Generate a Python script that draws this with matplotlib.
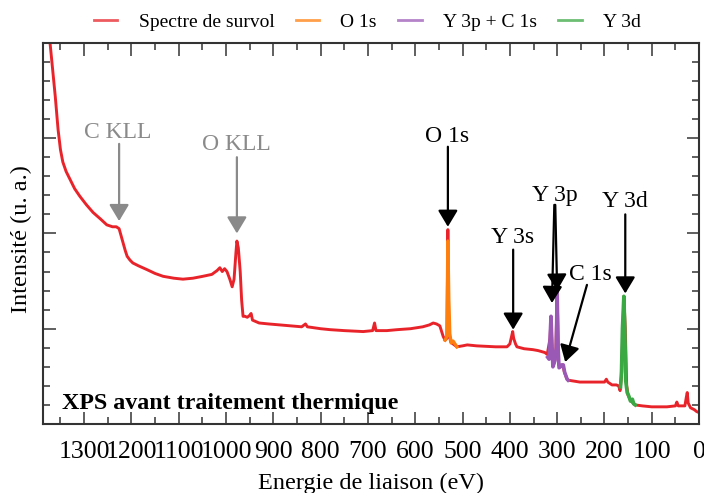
import matplotlib
matplotlib.use("Agg")
import matplotlib.pyplot as plt
from matplotlib.lines import Line2D

plt.rcParams['font.family'] = ['Liberation Serif', 'DejaVu Serif']

# Survey spectrum: binding energy (eV) and intensity (a.u.)
survey_energy = [
    1390, 1380, 1372, 1366, 1361, 1355, 1350, 1345, 1338, 1330, 1320, 1309,
    1295, 1281, 1265, 1252, 1240, 1232, 1226, 1222, 1218, 1213, 1209, 1203,
    1197, 1185, 1167, 1150, 1133, 1110, 1091, 1070, 1049, 1030, 1019, 1013,
    1008, 1003, 998, 992, 987, 983, 979, 977, 974, 970, 967, 964, 960, 955,
    950, 947, 944, 930, 910, 886, 860, 840, 832, 828, 800, 780, 750, 710,
    690, 686, 683, 660, 638, 610, 584, 570, 562, 555, 548, 541, 537, 533,
    531, 529, 525, 520, 512, 500, 490, 470, 430, 406, 400, 396, 394, 392,
    388, 385, 370, 351, 340, 326, 321, 315, 313, 311, 308, 303, 300, 297,
    294, 290, 288, 285, 280, 277, 265, 252, 230, 200, 196, 193, 184, 175,
    170, 167, 164, 159, 156, 153, 150, 145, 140, 135, 120, 100, 68, 50, 47,
    44, 30, 27, 25, 23, 18, 10, 5, 0,
]
survey_intensity = [
    4.60, 4.30, 4.00, 3.70, 3.44, 3.09, 2.88, 2.75, 2.65, 2.57, 2.47, 2.39,
    2.30, 2.22, 2.15, 2.09, 2.07, 2.07, 2.05, 1.98, 1.91, 1.82, 1.76, 1.72,
    1.69, 1.66, 1.62, 1.58, 1.55, 1.53, 1.52, 1.53, 1.55, 1.57, 1.61, 1.64,
    1.60, 1.63, 1.60, 1.52, 1.44, 1.52, 1.80, 1.92, 1.85, 1.60, 1.30, 1.13,
    1.13, 1.12, 1.14, 1.16, 1.09, 1.06, 1.05, 1.04, 1.03, 1.02, 1.05, 1.02,
    1.00, 0.99, 0.98, 0.97, 0.98, 1.06, 0.98, 0.98, 0.99, 1.00, 1.02, 1.04,
    1.06, 1.05, 1.03, 0.92, 0.88, 0.90, 2.04, 0.95, 0.86, 0.84, 0.81, 0.82,
    0.83, 0.82, 0.81, 0.81, 0.84, 0.93, 0.97, 0.90, 0.84, 0.81, 0.79, 0.78,
    0.77, 0.75, 0.73, 0.90, 1.12, 0.80, 0.62, 0.70, 1.38, 0.62, 0.60, 0.62,
    0.62, 0.55, 0.48, 0.46, 0.45, 0.44, 0.44, 0.44, 0.47, 0.44, 0.41, 0.41,
    0.40, 0.35, 0.50, 1.34, 1.00, 0.40, 0.30, 0.25, 0.22, 0.20, 0.19, 0.18,
    0.18, 0.19, 0.23, 0.19, 0.19, 0.28, 0.33, 0.22, 0.17, 0.15, 0.13, 0.12,
]

# O 1s region
o1s_energy = [537, 535, 533, 531, 529, 527, 524, 520, 516, 512]
o1s_intensity = [0.88, 0.90, 0.92, 1.92, 1.30, 0.95, 0.85, 0.87, 0.84, 0.81]

# Y 3p + C 1s region
y3p_energy = [320, 317, 315, 313, 311, 309, 305, 302, 300, 298, 296, 293,
              290, 287, 284, 281, 279, 277]
y3p_intensity = [0.70, 0.68, 0.90, 1.13, 0.85, 0.60, 0.66, 0.80, 1.38, 0.80,
                 0.59, 0.60, 0.62, 0.62, 0.54, 0.50, 0.47, 0.46]

# Y 3d region
y3d_energy = [166, 164, 162, 159, 157, 155, 152, 149, 145, 141, 138, 135]
y3d_intensity = [0.39, 0.55, 1.00, 1.34, 1.00, 0.45, 0.33, 0.30, 0.24, 0.26,
                 0.21, 0.20]

x_ticks = [1300, 1200, 1100, 1000, 900, 800, 700, 600, 500, 400, 300, 200, 100, 0]

# Peak annotations: label, label position, arrow start, arrow tip, colour
annotations = [
    ("C KLL", (1230, 3.06), [((1226, 2.94), (1226, 2.13))], "#8a8a8a"),
    ("O KLL", (979, 2.93), [((977, 2.80), (977, 2.00))], "#8a8a8a"),
    ("O 1s", (533, 3.02), [((531, 2.91), (531, 2.07))], "black"),
    ("Y 3s", (395, 1.96), [((393, 1.83), (393, 0.99))], "black"),
    ("Y 3p", (304, 2.40), [((306, 2.30), (311, 1.27)),
                           ((304, 2.30), (300, 1.40))], "black"),
    ("C 1s", (230, 1.57), [((237, 1.46), (283, 0.65))], "black"),
    ("Y 3d", (156, 2.33), [((156, 2.20), (156, 1.37))], "black"),
]

red = "#e8242a"
orange = "#ff7f0e"
purple = "#9b59b6"
green = "#3aa843"

fig = plt.figure(figsize=(7.04, 4.93), dpi=100)
ax = fig.add_axes([0.061, 0.140, 0.932, 0.773])

ax.plot(survey_energy, survey_intensity, color=red, lw=2.1, zorder=2)
ax.plot(o1s_energy, o1s_intensity, color=orange, lw=2.4, zorder=3)
ax.plot(y3p_energy, y3p_intensity, color=purple, lw=2.6, zorder=3)
ax.plot(y3d_energy, y3d_intensity, color=green, lw=2.6, zorder=3)

ax.set_xlim(1387, 0)
ax.set_ylim(0, 4)
ax.set_xticks(x_ticks)
ax.set_xticks(range(1350, -1, -50), minor=True)
ax.set_yticks([1, 2, 3])
ax.set_yticks([v / 5 for v in range(1, 20)], minor=True)
ax.set_yticklabels([])

ax.tick_params(which='both', direction='in', top=True, right=True,
               color='#444444', width=1.2)
ax.tick_params(which='major', length=9, labelsize=18.5, pad=12)
ax.tick_params(which='minor', length=5)
for sp in ax.spines.values():
    sp.set_color('#333333')
    sp.set_linewidth(1.5)

ax.set_xlabel("Energie de liaison (eV)", fontsize=17.5, labelpad=7)
ax.set_ylabel("Intensité (u. a.)", fontsize=17.5)
ax.yaxis.set_label_coords(-0.016, 0.486)

for label, text_pos, arrows, col in annotations:
    ax.text(text_pos[0], text_pos[1], label, color=col, fontsize=17,
            ha='center', va='center', zorder=5)
    for start, tip in arrows:
        ax.annotate("", xy=tip, xytext=start,
                    arrowprops=dict(arrowstyle='-|>,head_width=0.3,head_length=0.5',
                                    color=col, lw=1.6, mutation_scale=20,
                                    shrinkA=0, shrinkB=0),
                    zorder=4)

ax.text(0.029, 0.055, "XPS avant traitement thermique", transform=ax.transAxes,
        fontsize=17.3, fontweight='bold', ha='left', va='center')

handles = [
    Line2D([], [], color=red, lw=2, alpha=0.75),
    Line2D([], [], color=orange, lw=2, alpha=0.75),
    Line2D([], [], color=purple, lw=2, alpha=0.75),
    Line2D([], [], color=green, lw=2, alpha=0.75),
]
fig.legend(handles, ["Spectre de survol", "O 1s", "Y 3p + C 1s", "Y 3d"],
           loc='center', bbox_to_anchor=(0.522, 0.955), ncol=4, frameon=False,
           fontsize=14, handlelength=1.2, handletextpad=1.1, columnspacing=1.1)

fig.savefig("out.png", dpi=100)
